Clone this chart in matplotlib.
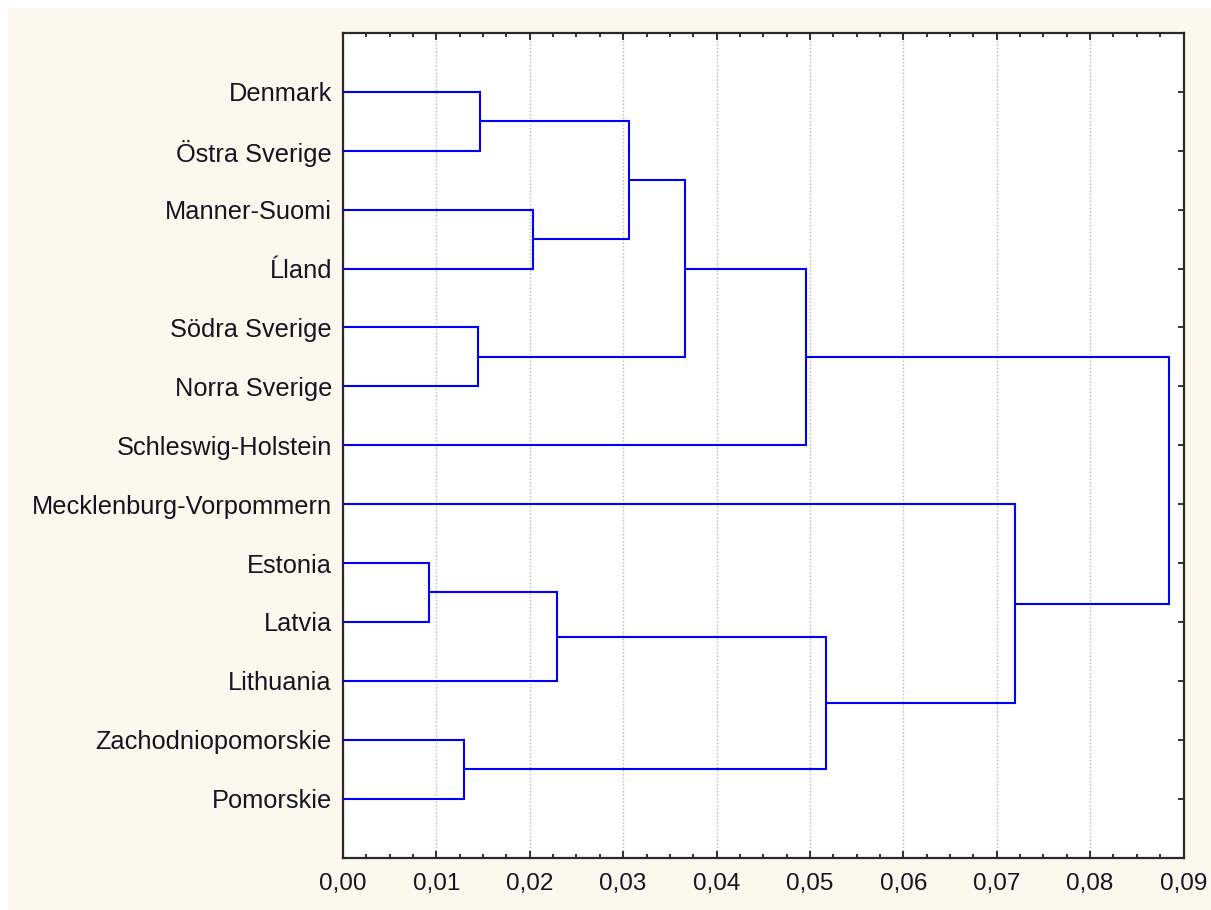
import numpy as np
import matplotlib.pyplot as plt
from matplotlib.patches import Rectangle
from matplotlib.ticker import MultipleLocator, FuncFormatter

# Leaves, top to bottom
regions = ["Denmark", "Östra Sverige", "Manner-Suomi", "Ĺland", "Södra Sverige",
           "Norra Sverige", "Schleswig-Holstein", "Mecklenburg-Vorpommern",
           "Estonia", "Latvia", "Lithuania", "Zachodniopomorskie", "Pomorskie"]

# Merges: (child a, child b, linkage distance); new node ids start at len(regions)
merge_a = [8, 11, 4, 0, 2, 13, 16, 19, 20, 18, 7, 21]
merge_b = [9, 12, 5, 1, 3, 10, 17, 15, 6, 14, 22, 23]
merge_dist = [0.0092, 0.0130, 0.0145, 0.0147, 0.0203, 0.0229,
              0.0306, 0.0366, 0.0496, 0.0517, 0.0720, 0.0885]

x_ticks = np.arange(0, 0.0901, 0.01)

plt.rcParams['font.family'] = ['Liberation Sans', 'DejaVu Sans']
text_color = "#151520"
line_color = "#0000ff"

fig = plt.figure(figsize=(12.11, 9.10), dpi=100, facecolor="#fdf8ee")
# thin white border on top and left
fig.add_artist(Rectangle((0, 1 - 8 / 910), 1, 8 / 910, transform=fig.transFigure,
                         facecolor="white", edgecolor="none", zorder=0))
fig.add_artist(Rectangle((0, 0), 8 / 1211, 1, transform=fig.transFigure,
                         facecolor="white", edgecolor="none", zorder=0))

ax = fig.add_axes([343 / 1211, 1 - 857.5 / 910, 840.5 / 1211, 824.5 / 910])
ax.set_facecolor("white")

# node positions
n = len(regions)
node_y = {i: i + 1 for i in range(n)}
node_x = {i: 0.0 for i in range(n)}
for k, (a, b, d) in enumerate(zip(merge_a, merge_b, merge_dist)):
    node = n + k
    ya, yb = node_y[a], node_y[b]
    ax.plot([node_x[a], d], [ya, ya], color=line_color, lw=1.5, solid_capstyle="butt", zorder=3)
    ax.plot([node_x[b], d], [yb, yb], color=line_color, lw=1.5, solid_capstyle="butt", zorder=3)
    ax.plot([d, d], [ya, yb], color=line_color, lw=1.5, solid_capstyle="projecting", zorder=3)
    node_y[node] = (ya + yb) / 2
    node_x[node] = d

ax.set_xlim(0, 0.09)
ax.set_ylim(n + 1, 0)

ax.set_xticks(x_ticks)
ax.xaxis.set_minor_locator(MultipleLocator(0.0025))
ax.xaxis.set_major_formatter(FuncFormatter(lambda v, p: f"{v:.2f}".replace(".", ",")))
ax.set_yticks(range(1, n + 1))
ax.set_yticklabels(regions)

ax.tick_params(axis="both", which="both", direction="in", top=True, right=True,
               colors="#222222", labelcolor=text_color)
ax.tick_params(axis="x", which="major", length=5, width=1.3, pad=11, labelsize=17.5)
ax.tick_params(axis="x", which="minor", length=3, width=1.3)
ax.tick_params(axis="y", which="major", length=4.5, width=1.3, pad=8, labelsize=18.3)

ax.grid(axis="x", which="major", linestyle=(0, (1, 1.5)), color="#b8b8b8", lw=1.0, zorder=1)

for s in ax.spines.values():
    s.set_linewidth(1.6)
    s.set_color("#2a2a2a")

fig.savefig("out.png", dpi=100, facecolor=fig.get_facecolor())
